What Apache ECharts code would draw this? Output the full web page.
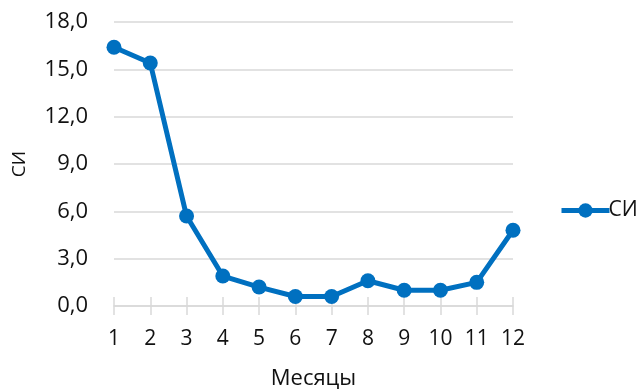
<!DOCTYPE html>
<html>
<head>
<meta charset="utf-8">
<script src="https://cdn.jsdelivr.net/npm/echarts@6/dist/echarts.min.js"></script>
<style>
  html, body { margin: 0; padding: 0; background: #fff; }
  #chart { width: 643px; height: 392px; }
</style>
</head>
<body>
<div id="chart"></div>
<script>
// Monthly SI values
const months = ['1', '2', '3', '4', '5', '6', '7', '8', '9', '10', '11', '12'];
const siValues = [16.4, 15.4, 5.7, 1.9, 1.2, 0.6, 0.6, 1.6, 1.0, 1.0, 1.5, 4.8];
const seriesName = 'СИ';
const xAxisTitle = 'Месяцы';
const yAxisTitle = 'СИ';

const textColor = '#111111';
const gridColor = '#d9d9d9';
const lineColor = '#0070c0';
const fontFamily = '"Open Sans", "DejaVu Sans", sans-serif';

const chart = echarts.init(document.getElementById('chart'));
chart.setOption({
  animation: false,
  textStyle: { fontFamily: fontFamily },
  grid: { left: 114, right: 130, top: 22, bottom: 86, outerBoundsMode: 'none', containLabel: false },
  legend: {
    left: 554,
    top: 195,
    itemWidth: 48,
    itemHeight: 18,
    itemGap: 0,
    lineStyle: { width: 5 },
    textStyle: { fontSize: 21, color: textColor, fontFamily: fontFamily, padding: [0, 0, 0, -6] },
    data: [seriesName]
  },
  xAxis: [
    {
      type: 'category',
      data: months,
      boundaryGap: false,
      name: xAxisTitle,
      nameLocation: 'middle',
      nameGap: 62,
      nameTextStyle: { fontSize: 22, color: textColor },
      axisLine: { lineStyle: { color: gridColor, width: 1.5 } },
      axisTick: { length: 9, lineStyle: { color: gridColor, width: 1.5 } },
      axisLabel: { fontSize: 21, color: textColor, margin: 23 }
    },
    {
      // inner half of the crossing tick marks
      type: 'category',
      data: months,
      boundaryGap: false,
      position: 'bottom',
      axisLine: { show: false },
      axisTick: { inside: true, length: 9, lineStyle: { color: gridColor, width: 1.5 } },
      axisLabel: { show: false }
    }
  ],
  yAxis: {
    type: 'value',
    min: 0,
    max: 18,
    interval: 3,
    name: yAxisTitle,
    nameLocation: 'middle',
    nameGap: 85,
    nameTextStyle: { fontSize: 19, color: textColor },
    axisLine: { show: false },
    axisTick: { show: false },
    axisLabel: {
      fontSize: 22,
      color: textColor,
      margin: 26,
      formatter: v => v.toFixed(1).replace('.', ',')
    },
    splitLine: { lineStyle: { color: gridColor, width: 1.5 } }
  },
  series: [
    {
      name: seriesName,
      type: 'line',
      data: siValues,
      symbol: 'circle',
      symbolSize: 15,
      itemStyle: { color: lineColor },
      lineStyle: { color: lineColor, width: 5 }
    }
  ]
});
</script>
</body>
</html>
